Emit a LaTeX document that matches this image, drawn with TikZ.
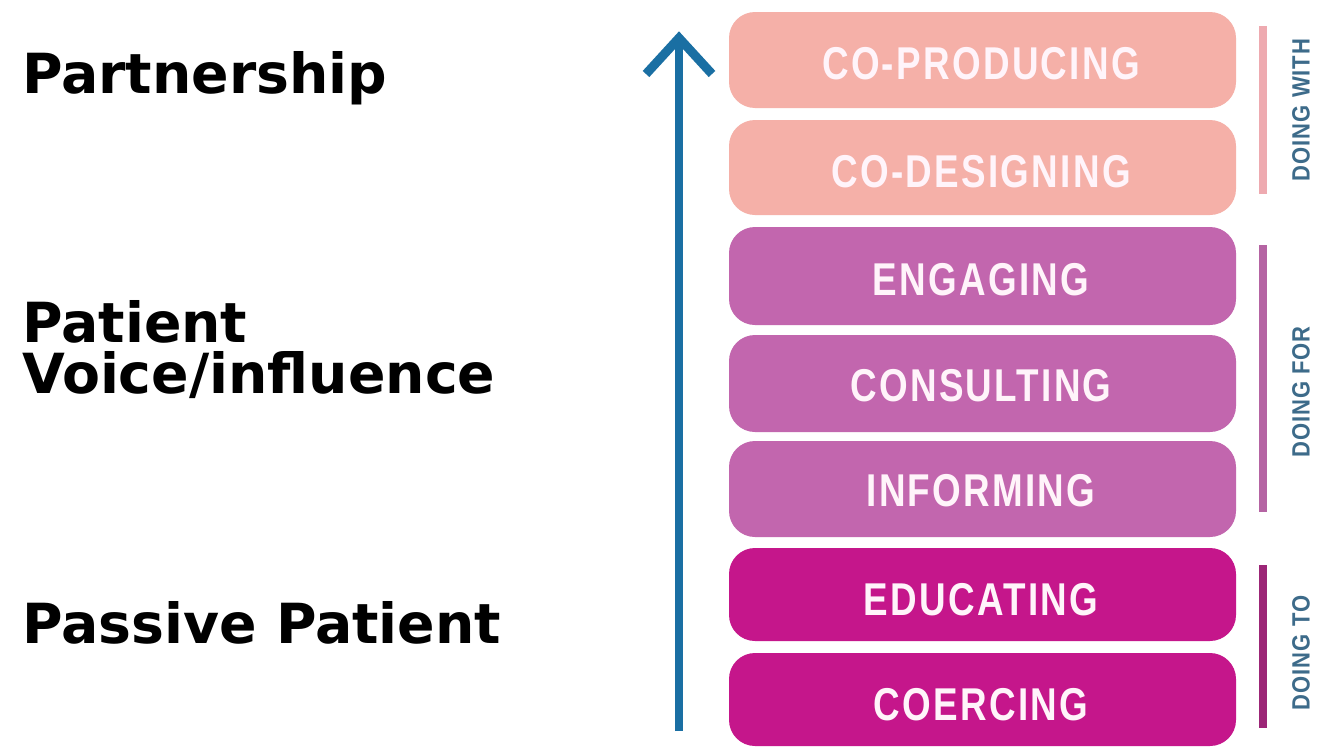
\documentclass[tikz,border=0pt]{standalone}
\usepackage{fontspec}
\newfontfamily\leftfont{DejaVu Sans}[BoldFont={DejaVu Sans Bold}]
\newfontfamily\boxfont[FakeStretch=0.8,LetterSpace=5]{Liberation Sans}
\newfontfamily\sidefont[FakeStretch=0.88,LetterSpace=4]{Liberation Sans}
\definecolor{salmon}{HTML}{F5B0A8}
\definecolor{midpurple}{HTML}{C266AE}
\definecolor{deepmag}{HTML}{C5168B}
\definecolor{barsalmon}{HTML}{EEAAB0}
\definecolor{barpurple}{HTML}{B564A3}
\definecolor{barmag}{HTML}{9C2677}
\definecolor{sidetext}{HTML}{3D6B8A}
\definecolor{arrowblue}{HTML}{1A6FA3}
\definecolor{boxtext}{HTML}{FFF4FA}
\tikzset{
  stage/.style={rounded corners=26pt, draw=none},
  stagelabel/.style={text=boxtext, font=\boxfont\bfseries\fontsize{46}{50}\selectfont, inner sep=0pt, anchor=center},
  leftlabel/.style={font=\leftfont\bfseries\fontsize{55.3}{60}\selectfont, text=black, inner sep=0pt, anchor=base west},
  sidebar/.style={line width=8pt},
  sidelabel/.style={text=sidetext, font=\sidefont\bfseries\fontsize{25}{28}\selectfont, rotate=90, inner sep=0pt, anchor=center}
}
\begin{document}
\begin{tikzpicture}[x=1pt,y=-1pt]
\useasboundingbox (0,0) rectangle (1317,747);
\fill[white] (0,0) rectangle (1317,747);

% left labels
\node[leftlabel] (partner) at (22,93) {Partnership};
\node[leftlabel] (patient) at (22,342) {Patient};
\node[leftlabel] (voice) at (22,393) {Voice/influence};
\node[leftlabel] (passive) at (22,643) {Passive Patient};

% stage boxes
\fill[stage, salmon] (729,12) rectangle (1236,108);
\fill[stage, salmon] (729,120) rectangle (1236,215);
\fill[stage, midpurple] (729,227) rectangle (1236,325);
\fill[stage, midpurple] (729,335) rectangle (1236,432);
\fill[stage, midpurple] (729,441) rectangle (1236,537);
\fill[stage, deepmag] (729,548) rectangle (1236,641);
\fill[stage, deepmag] (729,653) rectangle (1236,746);

\node[stagelabel] (coprod) at (981,64) {CO-PRODUCING};
\node[stagelabel] (codes) at (981,172) {CO-DESIGNING};
\node[stagelabel] (engag) at (981,280) {ENGAGING};
\node[stagelabel] (consult) at (981,386) {CONSULTING};
\node[stagelabel] (inform) at (981,491) {INFORMING};
\node[stagelabel] (educ) at (981,600) {EDUCATING};
\node[stagelabel] (coerc) at (981,705) {COERCING};

% arrow
\coordinate (abot) at (679,731);
\coordinate (atop) at (679,38);
\coordinate (aleft) at (646,74);
\coordinate (aright) at (712,74);
\draw[arrowblue, line width=8pt] (abot) -- (atop);
\draw[arrowblue, line width=9pt, line join=miter] (aleft) -- (atop) -- (aright);

% side bars
\coordinate (w1) at (1263,26); \coordinate (w2) at (1263,194);
\coordinate (f1) at (1263,245); \coordinate (f2) at (1263,512);
\coordinate (t1) at (1263,565); \coordinate (t2) at (1263,728);
\draw[sidebar, barsalmon] (w1) -- (w2);
\draw[sidebar, barpurple] (f1) -- (f2);
\draw[sidebar, barmag] (t1) -- (t2);

\node[sidelabel] (dwith) at (1301,110) {DOING WITH};
\node[sidelabel] (dfor) at (1301,392) {DOING FOR};
\node[sidelabel] (dto) at (1301,653) {DOING TO};
\end{tikzpicture}
\end{document}
